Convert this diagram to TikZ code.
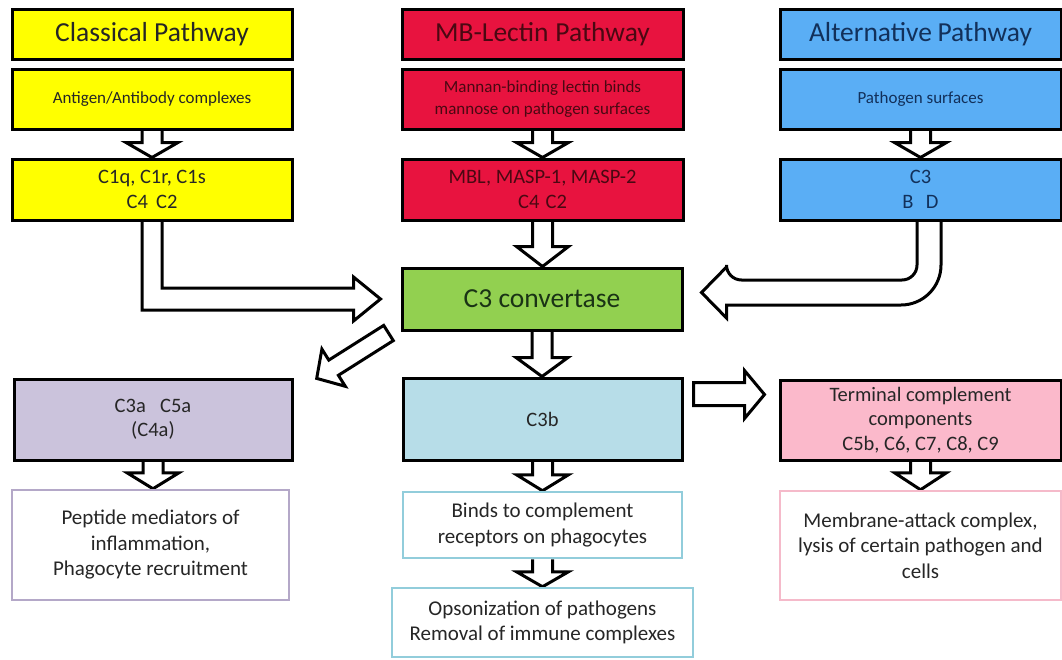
\documentclass[tikz,border=0pt]{standalone}
\usepackage{fontspec}
\setmainfont{Carlito}
\usetikzlibrary{calc,backgrounds}
\definecolor{cyel}{HTML}{FFFF00}
\definecolor{cred}{HTML}{E8133F}
\definecolor{cblue}{HTML}{5AAEF5}
\definecolor{cgreen}{HTML}{92D050}
\definecolor{clil}{HTML}{CBC3DC}
\definecolor{clb}{HTML}{B7DDE8}
\definecolor{cpink}{HTML}{FBB9CB}
\definecolor{blil}{HTML}{B4A8C8}
\definecolor{blb}{HTML}{92CDDB}
\definecolor{bpink}{HTML}{F5BACA}
\definecolor{tred}{HTML}{4A0812}
\definecolor{tblue}{HTML}{12305A}
\definecolor{tgreen}{HTML}{1A3315}
\definecolor{tdark}{HTML}{262626}
\newcommand\vblock[3]{%
  \draw[barrow] ($(#1.south)+(-10,0)$) -- ($(#2.north -| #1.south)+(-10,-#3)$) -- ($(#2.north -| #1.south)+(-26,-#3)$) -- (#2.north -| #1.south) -- ($(#2.north -| #1.south)+(26,-#3)$) -- ($(#2.north -| #1.south)+(10,-#3)$) -- ($(#1.south)+(10,0)$);}
\tikzset{
  box/.style={draw=black, line width=3pt, inner sep=0pt, align=center, text=tdark},
  lbox/.style={draw, line width=2.5pt, inner sep=0pt, align=center, fill=white, text=tdark, font=\fontsize{21}{25.5}\selectfont},
  ttl/.style={font=\fontsize{27.5}{30}\selectfont},
  sml/.style={font=\fontsize{17}{21.5}\selectfont},
  mid/.style={font=\fontsize{20.5}{24.5}\selectfont},
  barrow/.style={draw=black, fill=white, line width=3pt},
}
\begin{document}
\begin{tikzpicture}[x=1pt,y=-1pt]
\useasboundingbox (0,0) rectangle (1062,659);
% classical
\node[box,ttl,fill=cyel,minimum width=280,minimum height=50] (ct) at (152,34) {Classical Pathway};
\node[box,sml,fill=cyel,minimum width=280,minimum height=60] (ca) at (152,99) {Antigen/Antibody complexes};
\node[box,mid,fill=cyel,minimum width=280,minimum height=61] (cc) at (152,189.5) {C1q, C1r, C1s\\C4\hspace{0.4em}C2};
% MB lectin
\node[box,ttl,fill=cred,text=tred,minimum width=281,minimum height=50] (mt) at (542.5,34) {MB-Lectin\hspace{0.25em}Pathway};
\node[box,sml,fill=cred,text=tred,minimum width=281,minimum height=60] (ma) at (542.5,99) {Mannan-binding lectin binds\\mannose on pathogen surfaces};
\node[box,mid,fill=cred,text=tred,minimum width=281,minimum height=61] (mc) at (542.5,189.5) {MBL, MASP-1, MASP-2\\C4\hspace{0.3em}C2};
% alternative
\node[box,ttl,fill=cblue,text=tblue,minimum width=281,minimum height=50] (at) at (920.5,34) {Alternative\hspace{0.2em}Pathway};
\node[box,sml,fill=cblue,text=tblue,minimum width=281,minimum height=60] (aa) at (920.5,99) {Pathogen surfaces};
\node[box,mid,fill=cblue,text=tblue,minimum width=281,minimum height=61] (ac) at (920.5,189.5) {C3\\B\hspace{0.6em}D};
% centre
\node[box,ttl,fill=cgreen,text=tgreen,minimum width=280,minimum height=62] (conv) at (542,299) {C3 convertase};
\node[box,mid,fill=clb,minimum width=279,minimum height=82] (c3b) at (542.5,419) {C3b};
\node[box,mid,fill=clil,minimum width=278,minimum height=81] (c3a) at (153,419.5) {C3a\hspace{0.7em}C5a\\(C4a)};
\node[box,mid,fill=cpink,minimum width=281,minimum height=80] (term) at (920.5,420) {Terminal complement\\components\\C5b, C6, C7, C8, C9};
% lower
\node[lbox,draw=blil,minimum width=277,minimum height=110] (pep) at (150.5,545) {Peptide mediators of\\inflammation,\\Phagocyte recruitment};
\node[lbox,draw=blb,minimum width=279,minimum height=66] (binds) at (542.5,525) {Binds to complement\\receptors on phagocytes};
\node[lbox,draw=blb,minimum width=301,minimum height=69] (ops) at (542.5,622.5) {Opsonization of pathogens\\Removal of immune complexes};
\node[lbox,draw=bpink,minimum width=281,minimum height=109] (mem) at (920.5,545.5) {Membrane-attack complex,\\lysis of certain pathogen and\\cells};
\begin{scope}[on background layer]
\fill[white] (0,0) rectangle (1062,659);
\vblock{ca}{cc}{15}
\vblock{ma}{mc}{15}
\vblock{aa}{ac}{15}
\vblock{mc}{conv}{20}
\vblock{conv}{c3b}{19}
\vblock{c3a}{pep}{16}
\vblock{c3b}{binds}{16}
\vblock{binds}{ops}{15}
\vblock{term}{mem}{17}
% classical bent arrow
\draw[barrow] ($(cc.south)+(-10,0)$) -- ($(conv.west -| cc.south)+(-10,11)$) -- ($(conv.west)+(-47,11)$) -- ($(conv.west)+(-47,22)$) -- ($(conv.west)+(-20,0)$) -- ($(conv.west)+(-47,-22)$) -- ($(conv.west)+(-47,-11)$) -- ($(conv.west -| cc.south)+(10,-11)$) -- ($(cc.south)+(10,0)$);
% alternative bent arrow
\draw[barrow] ($(ac.south)+(-3.5,0)$) [rounded corners=15pt] -- ($(conv.east -| ac.south)+(-3.5,-19)$) -- ($(conv.east)+(43,-19)$) [sharp corners] -- ($(conv.east)+(43,-32)$) -- ($(conv.east)+(18,-6.5)$) -- ($(conv.east)+(43,19)$) -- ($(conv.east)+(43,6)$) [rounded corners=40pt] -- ($(conv.east -| ac.south)+(20.5,6)$) -- ($(ac.south)+(20.5,0)$);
% diagonal arrow
\draw[barrow] ($(conv.south west)+(-16.8,-6.1)$) -- ($(conv.south west)+(-71.7,28.6)$) -- ($(conv.south west)+(-78.6,17.6)$) -- ($(conv.south west)+(-83.8,46.9)$) -- ($(conv.south west)+(-55.2,54.8)$) -- ($(conv.south west)+(-62.1,43.8)$) -- ($(conv.south west)+(-7.2,9.1)$) -- cycle;
% C3b to terminal
\draw[barrow] ($(c3b.north east)+(10,6)$) -- ($(c3b.north east)+(61,6)$) -- ($(c3b.north east)+(61,-6)$) -- ($(c3b.north east)+(81,18)$) -- ($(c3b.north east)+(61,42)$) -- ($(c3b.north east)+(61,29)$) -- ($(c3b.north east)+(10,29)$) -- cycle;
\end{scope}
\end{tikzpicture}
\end{document}
